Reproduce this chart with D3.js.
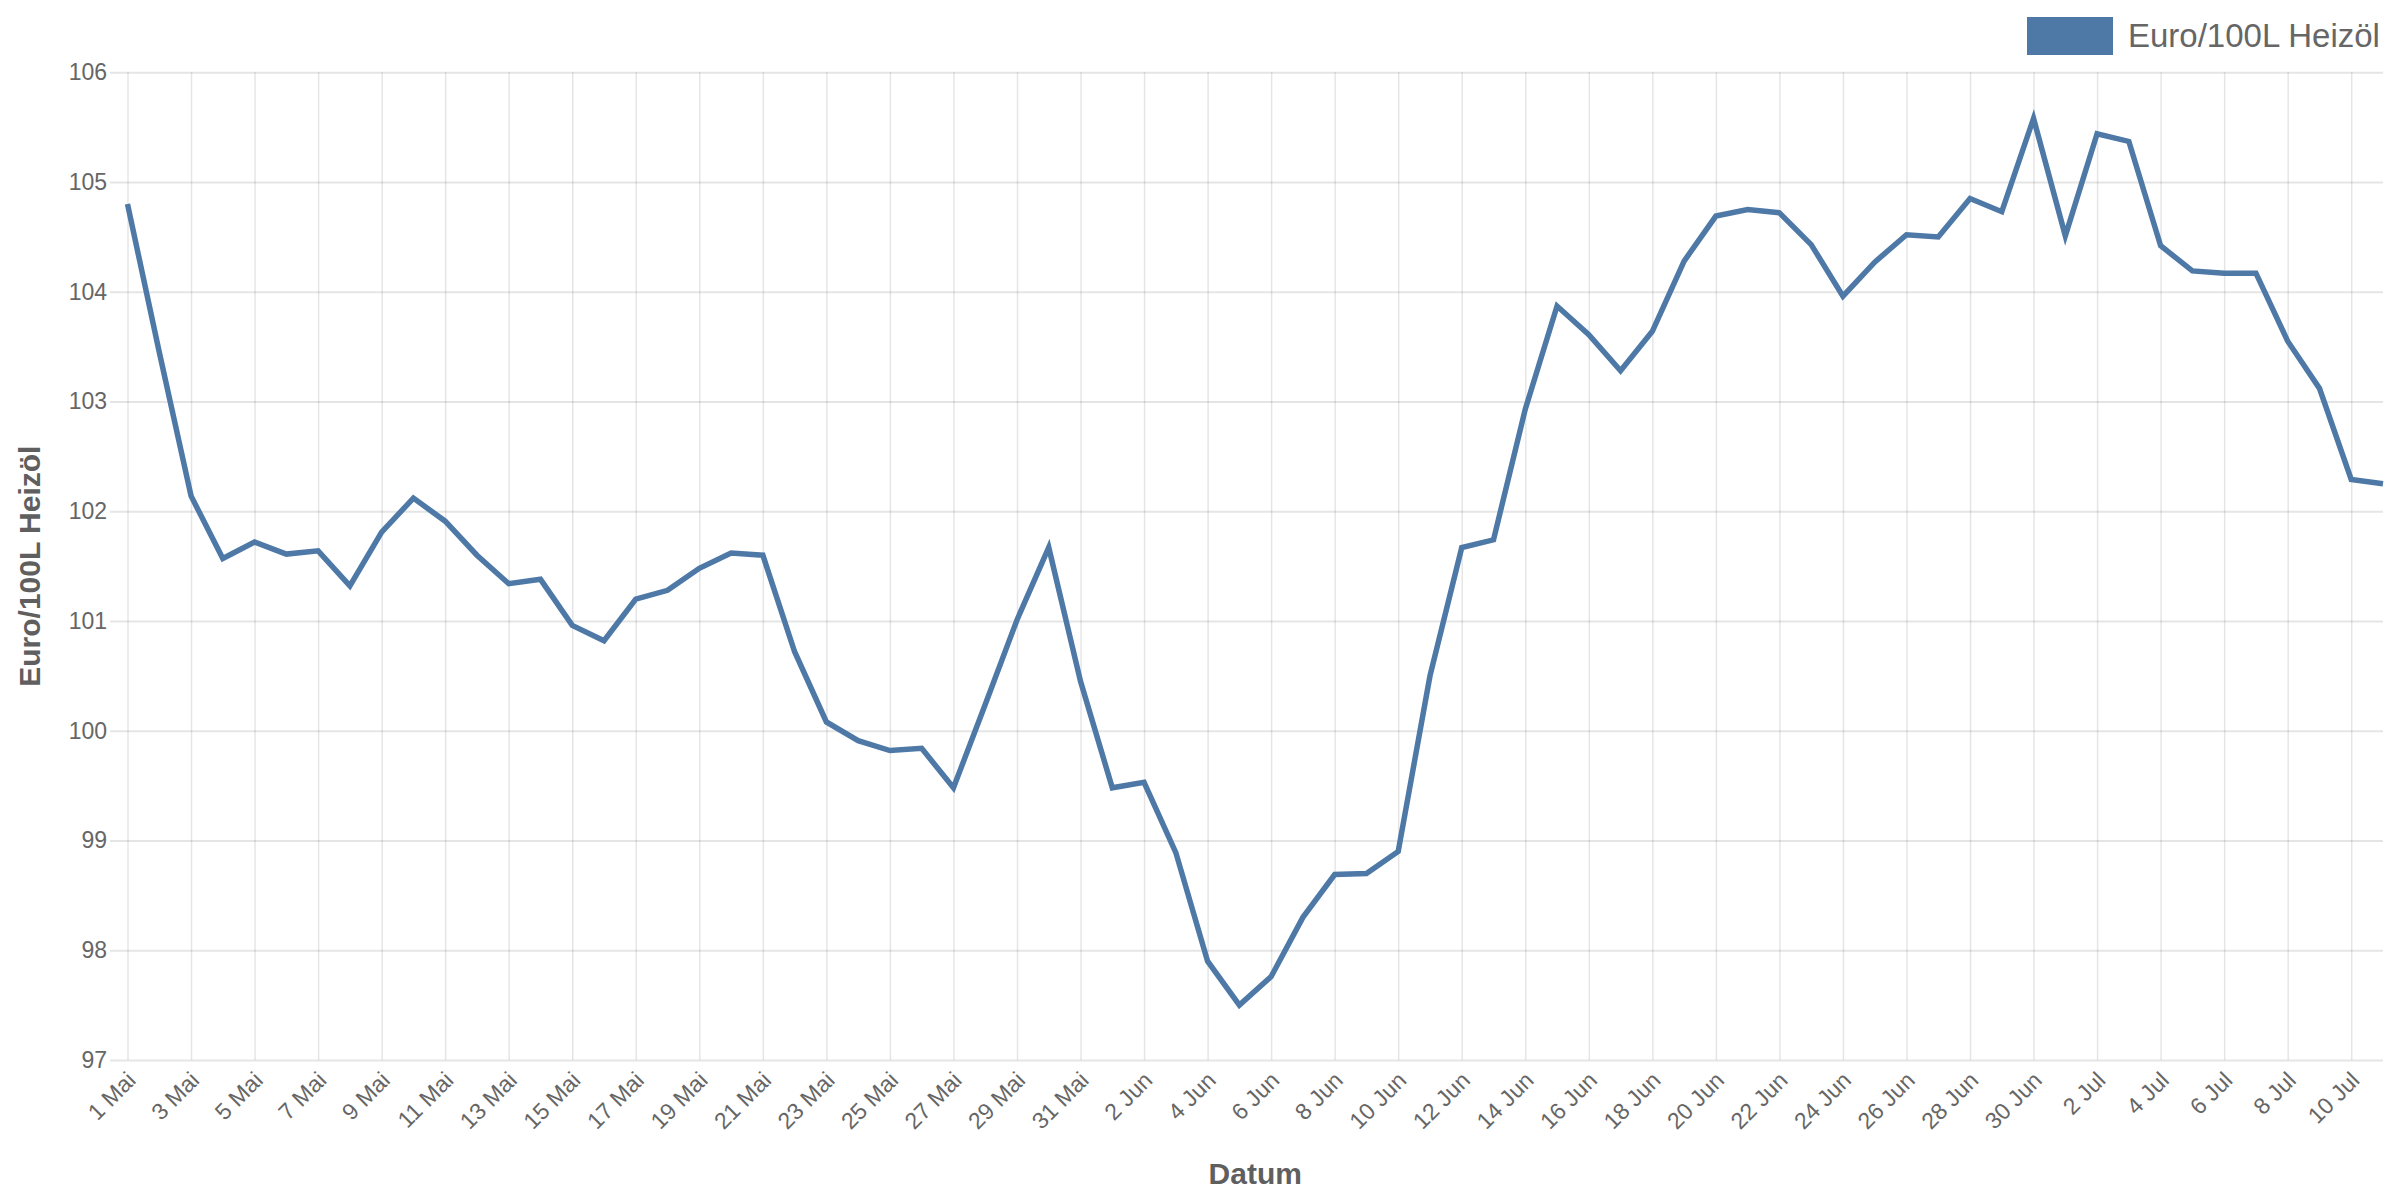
<!DOCTYPE html>
<html>
<head>
<meta charset="utf-8">
<script src="https://cdn.jsdelivr.net/npm/d3@7"></script>
<style>
  html, body { margin: 0; padding: 0; background: #ffffff; }
  svg { display: block; }
  text { font-family: "Liberation Sans", Arial, sans-serif; }
</style>
</head>
<body>
<svg id="chart" width="2400" height="1200"></svg>
<script>
const categories = [
  "1 Mai","2 Mai","3 Mai","4 Mai","5 Mai","6 Mai","7 Mai","8 Mai","9 Mai","10 Mai",
  "11 Mai","12 Mai","13 Mai","14 Mai","15 Mai","16 Mai","17 Mai","18 Mai","19 Mai","20 Mai",
  "21 Mai","22 Mai","23 Mai","24 Mai","25 Mai","26 Mai","27 Mai","28 Mai","29 Mai","30 Mai","31 Mai",
  "1 Jun","2 Jun","3 Jun","4 Jun","5 Jun","6 Jun","7 Jun","8 Jun","9 Jun","10 Jun",
  "11 Jun","12 Jun","13 Jun","14 Jun","15 Jun","16 Jun","17 Jun","18 Jun","19 Jun","20 Jun",
  "21 Jun","22 Jun","23 Jun","24 Jun","25 Jun","26 Jun","27 Jun","28 Jun","29 Jun","30 Jun",
  "1 Jul","2 Jul","3 Jul","4 Jul","5 Jul","6 Jul","7 Jul","8 Jul","9 Jul","10 Jul","11 Jul"
];

const heizoelPreis = [
  104.80,103.45,102.14,101.57,101.72,101.61,101.64,101.32,101.81,102.12,
  101.91,101.60,101.34,101.38,100.96,100.82,101.20,101.28,101.48,101.62,
  101.60,100.72,100.08,99.91,99.82,99.84,99.48,100.24,101.01,101.67,100.45,
  99.48,99.53,98.89,97.90,97.50,97.76,98.30,98.69,98.70,98.90,
  100.50,101.67,101.74,102.93,103.87,103.61,103.28,103.64,104.28,104.69,
  104.75,104.72,104.43,103.96,104.27,104.52,104.50,104.85,104.73,105.58,
  104.51,105.44,105.37,104.42,104.19,104.17,104.17,103.55,103.12,102.29,102.25
];

const yTicks = [97, 98, 99, 100, 101, 102, 103, 104, 105, 106];
const xTickLabels = categories.filter((d, i) => i % 2 === 0 && i < categories.length - 1);

const seriesName = "Euro/100L Heizöl";
const xTitle = "Datum";
const yTitle = "Euro/100L Heizöl";

(function () {
  const plotLeft = 127.5, plotRight = 2383, plotTop = 72.3, plotBottom = 1060;
  const lineColor = "#4e79a7";

  const svg = d3.select("#chart");

  const x = d3.scalePoint().domain(categories).range([plotLeft, plotRight]);
  const y = d3.scaleLinear().domain([97, 106]).range([plotBottom, plotTop]);

  // horizontal grid + y labels
  const yAxis = d3.axisLeft(y)
    .tickValues(yTicks)
    .tickSize(-(plotRight - 110))
    .tickPadding(3)
    .tickFormat(d3.format("d"));
  const gy = svg.append("g").attr("transform", "translate(110,0)").call(yAxis);
  gy.select(".domain").remove();
  gy.selectAll(".tick line").attr("stroke", "rgba(0,0,0,0.1)").attr("stroke-width", 2);
  gy.selectAll(".tick text")
    .attr("fill", "#666")
    .style("font-size", "23px");

  // vertical grid
  const xGrid = d3.axisBottom(x)
    .tickValues(xTickLabels)
    .tickSize(-(plotBottom - plotTop))
    .tickFormat("");
  const gx = svg.append("g").attr("transform", `translate(0,${plotBottom})`).call(xGrid);
  gx.select(".domain").remove();
  gx.selectAll(".tick line").attr("stroke", "rgba(0,0,0,0.1)").attr("stroke-width", 1.5);

  // x tick labels rotated
  svg.append("g").selectAll("text")
    .data(xTickLabels)
    .join("text")
    .attr("transform", d => `translate(${x(d) + 4},${plotBottom + 16}) rotate(-45)`)
    .attr("text-anchor", "end")
    .attr("dy", "0.35em")
    .attr("fill", "#666")
    .style("font-size", "23px")
    .text(d => d);

  // line
  const line = d3.line()
    .x((d, i) => x(categories[i]))
    .y(d => y(d));

  svg.append("path")
    .datum(heizoelPreis)
    .attr("fill", "none")
    .attr("stroke", lineColor)
    .attr("stroke-width", 5.5)
    .attr("stroke-linejoin", "miter")
    .attr("d", line);

  // axis titles
  svg.append("text")
    .attr("x", (plotLeft + plotRight) / 2)
    .attr("y", 1184)
    .attr("text-anchor", "middle")
    .attr("fill", "#5f5f5f")
    .style("font-size", "30px")
    .style("font-weight", "bold")
    .text(xTitle);

  svg.append("text")
    .attr("transform", `translate(40,${(plotTop + plotBottom) / 2}) rotate(-90)`)
    .attr("text-anchor", "middle")
    .attr("fill", "#5f5f5f")
    .style("font-size", "30px")
    .style("font-weight", "bold")
    .text(yTitle);

  // legend
  const lg = svg.append("g");
  lg.append("rect")
    .attr("x", 2027).attr("y", 17)
    .attr("width", 86).attr("height", 38)
    .attr("fill", lineColor);
  lg.append("text")
    .attr("x", 2128).attr("y", 47)
    .attr("fill", "#666")
    .style("font-size", "33px")
    .text(seriesName);
})();
</script>
</body>
</html>
